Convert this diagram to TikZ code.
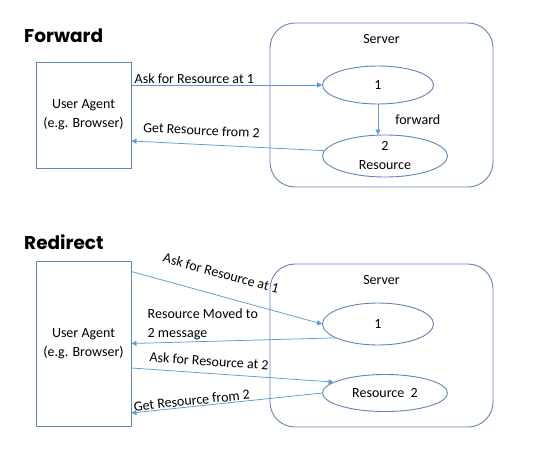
\documentclass[tikz,border=0pt]{standalone}
\usepackage{fontspec}
\setmainfont{Carlito}
\newfontfamily\titlefont{Poppins}
\usetikzlibrary{positioning, shapes.geometric, arrows.meta}
\definecolor{arrowblue}{RGB}{91,155,213}
\definecolor{shapeblue}{RGB}{96,132,180}
\tikzset{
	>={Triangle[length=5pt, width=5pt]},
	flow/.append style={
		draw=arrowblue,
		line width=0.75pt,
	},
	labe/.append style={
		inner sep=1pt,
	},
	agent/.append style={
		draw=shapeblue,
		line width=0.9pt,
		align = center,
		minimum width=95pt,
	},
	server/.append style={
		draw=shapeblue,
		line width=0.9pt,
		rounded corners=25pt,
		minimum width=223pt,
	},
	gate/.append style={
		ellipse,
		draw=shapeblue,
		line width=0.9pt,
		align = center,
		inner sep=0pt,
		inner ysep=-3pt,
	},
	heading/.append style={
		anchor=base west,
		inner sep=0pt,
		font={\titlefont\bfseries\fontsize{18.5}{22}\selectfont},
	}
}

\begin{document}
\begin{tikzpicture}[x=1pt, y=-1pt, font=\fontsize{14}{19}\selectfont]
		\useasboundingbox (0,0) rectangle (554,471);
		% forward
		\node(fwd)[heading] at (24,42.7){Forward};
		\node(ua1)[agent, minimum height=106pt] at (83.5,115){User Agent\\(e.g. Browser)};
		\node(srv1)[server, minimum height=164pt] at (381.5,105){};
		\node(srv1lbl)[labe, below=11pt of srv1.north]{Server};
		\node(one1)[gate, minimum width=111pt, minimum height=38pt] at (378,85){1};
		\node(two1)[gate, minimum width=125pt, minimum height=42pt] at (385,156){2\\Resource};
		
		\draw[flow, ->] (ua1.east |- one1.west) -- node[labe, above, pos=0.33] {Ask for Resource at 1} (one1.west);
		\draw[flow, ->] (one1.south) -- node[labe, right=16pt] {forward} (one1.south |- two1.north);
		\draw[flow, <-] ([yshift=-26pt]ua1.east) -- node[labe, sloped, above=8pt, pos=0.36] {Get Resource from 2} (two1.175);
		
		% redirect
		\node(red)[heading] at (24,249.3){Redirect};
		\node(ua2)[agent, minimum height=165pt] at (83.5,343.5){User Agent\\(e.g. Browser)};
		\node(srv2)[server, minimum height=163pt] at (381.5,345.5){};
		\node(srv2lbl)[labe, below=11pt of srv2.north]{Server};
		\node(one2)[gate, minimum width=111pt, minimum height=42pt] at (378,324){1};
		\node(two2)[gate, minimum width=125pt, minimum height=37pt] at (385,393){Resource\ \ 2};
		
		\draw[flow, ->] ([yshift=-11pt]ua2.north east) -- node[labe, sloped, above=16pt, pos=0.44] {Ask for Resource at 1} (one2.west);
		\draw[flow, <-] (ua2.east) -- node[labe, above, align=left, pos=0.35] {Resource Moved to\\2 message} (one2.198);
		\draw[flow, ->] ([yshift=-24.5pt]ua2.east) -- node[labe, sloped, above=6pt, pos=0.38] {Ask for Resource at 2} (two2.168);
		\draw[flow, <-] ([yshift=-69.5pt]ua2.east) -- node[labe, sloped, above, pos=0.32] {Get Resource from 2} (two2.west);
\end{tikzpicture}
\end{document}
